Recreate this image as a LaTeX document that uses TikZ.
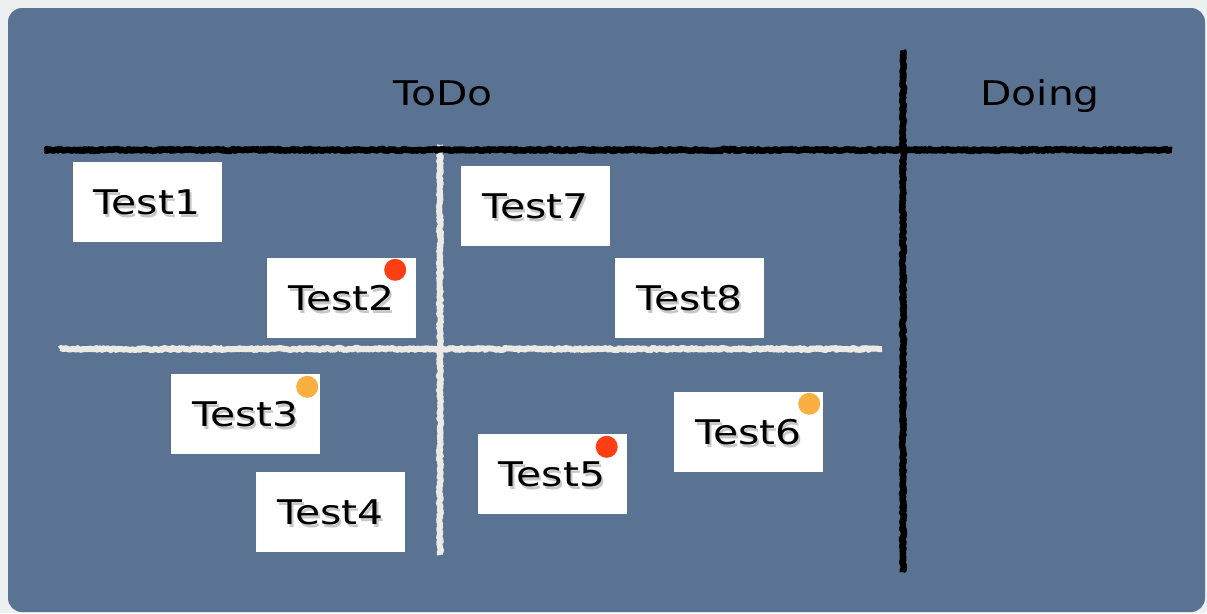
\documentclass[tikz,border=0pt]{standalone}
\usepackage{fontspec}
\newfontfamily\hand[FakeStretch=1.2]{DejaVu Sans}
\usetikzlibrary{decorations.pathmorphing}
\definecolor{board}{HTML}{5B7393}
\definecolor{chalk}{HTML}{ECEAE4}
\definecolor{paper}{HTML}{EEF1F2}
\definecolor{hot}{HTML}{FF3E14}
\definecolor{warn}{HTML}{FAAF42}

\begin{document}
\begin{tikzpicture}[x=1pt,y=-1pt,
  card/.style={fill=white,minimum width=149pt,minimum height=80pt,inner sep=0pt},
  txt/.style={anchor=base,inner sep=0pt,font=\hand\fontsize{34}{40}\selectfont},
  rough/.style={line join=round,decorate,decoration={random steps,segment length=1.5pt,amplitude=1.1pt}},
  dot/.style={circle,minimum size=22pt,inner sep=0pt}]
\useasboundingbox (0,0) rectangle (1207,613);
\fill[paper] (0,0) rectangle (1207,613);
\fill[board,rounded corners=14pt] (8,8) rectangle (1205,612);
% chalk lines
\draw[chalk,line width=6pt,rough] (60,349)--(882,349);
\draw[chalk,line width=6pt,rough] (440,145)--(440,555);
\draw[black,line width=6.5pt,rough] (45,150)--(1172,150);
\draw[black,line width=6.5pt,rough] (903,50)--(903,572);
\node[txt] (todo) at (443,105) {ToDo};
\node[txt] (doing) at (1040,105) {Doing};
% cards, text with a soft shadow
\foreach \n/\x/\y in {1/147/202,2/341.5/298,3/245.5/414,4/330.5/512,5/552/474,6/748.5/432,7/535.5/206,8/689.5/298}{
  \node[card] (card\n) at (\x,\y) {};
  \node[txt,text=black!22] at (\x+2,\y+15) {Test\n};
  \node[txt] (label\n) at (\x,\y+12) {Test\n};
}
\foreach \c/\dx/\dy/\col in {2/-21/12/hot,3/-13/13/warn,5/-20/13/hot,6/-14/12/warn}
  \node[dot,fill=\col] (dot\c) at ([shift={(\dx,\dy)}]card\c.north east) {};
\end{tikzpicture}
\end{document}
